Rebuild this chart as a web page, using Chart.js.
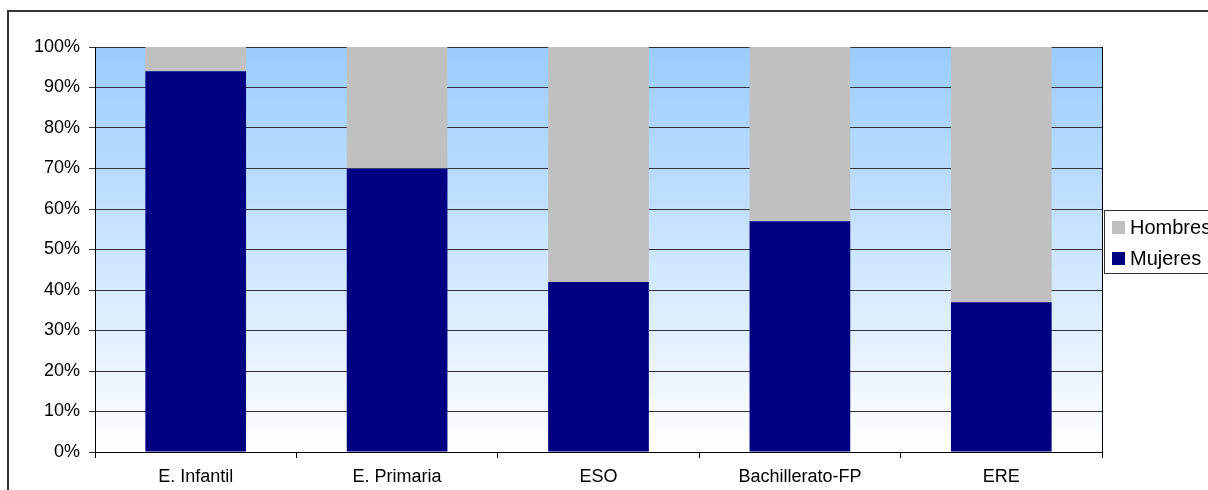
<!DOCTYPE html>
<html>
<head>
<meta charset="utf-8">
<script src="https://cdn.jsdelivr.net/npm/chart.js@4"></script>
<style>
  html, body { margin: 0; padding: 0; background: #fff; }
  #wrap { width: 1208px; height: 490px; position: relative; }
</style>
</head>
<body>
<div id="wrap"><canvas id="chart" width="1208" height="490"></canvas></div>
<script>
const categories = ['E. Infantil', 'E. Primaria', 'ESO', 'Bachillerato-FP', 'ERE'];
const mujeres = [94, 70, 42, 57, 37];
const hombres = [6, 30, 58, 43, 63];
const yTicks = [0, 10, 20, 30, 40, 50, 60, 70, 80, 90, 100];

const FONT = "'Liberation Sans', Arial, sans-serif";

// plot area gradient, right border, outer frame, legend box
const decor = {
    id: 'decor',
    beforeDraw(chart) {
        const ctx = chart.ctx;
        const a = chart.chartArea;
        const g = ctx.createLinearGradient(0, a.top, 0, a.bottom);
        g.addColorStop(0, '#99CCFF');
        g.addColorStop(1, '#FFFFFF');
        ctx.save();
        ctx.fillStyle = g;
        ctx.fillRect(a.left, a.top, a.right - a.left, a.bottom - a.top);
        ctx.strokeStyle = '#000';
        ctx.lineWidth = 1;
        ctx.beginPath();
        ctx.moveTo(a.right + 0.5, a.top);
        ctx.lineTo(a.right + 0.5, a.bottom);
        ctx.stroke();
        ctx.restore();
    },
    afterDraw(chart) {
        const ctx = chart.ctx;
        ctx.save();
        // outer frame
        ctx.strokeStyle = '#333';
        ctx.lineWidth = 2;
        ctx.beginPath();
        ctx.moveTo(8, 490);
        ctx.lineTo(8, 11);
        ctx.lineTo(1208, 11);
        ctx.stroke();
        // legend
        ctx.fillStyle = '#fff';
        ctx.fillRect(1104.5, 210.5, 200, 63);
        ctx.strokeStyle = '#333';
        ctx.lineWidth = 1;
        ctx.strokeRect(1104.5, 210.5, 200, 63);
        const items = [chart.data.datasets[1], chart.data.datasets[0]];
        ctx.font = '20px ' + FONT;
        ctx.textBaseline = 'middle';
        items.forEach((ds, i) => {
            const y = 221 + i * 31;
            ctx.fillStyle = ds.backgroundColor;
            ctx.fillRect(1112, y, 13, 13);
            ctx.fillStyle = '#000';
            ctx.fillText(ds.label, 1130, y + 7);
        });
        ctx.restore();
    }
};

new Chart(document.getElementById('chart'), {
    type: 'bar',
    data: {
        labels: categories,
        datasets: [
            { label: 'Mujeres', data: mujeres, backgroundColor: '#000080', barPercentage: 0.5, categoryPercentage: 1 },
            { label: 'Hombres', data: hombres, backgroundColor: '#C0C0C0', barPercentage: 0.5, categoryPercentage: 1 }
        ]
    },
    options: {
        responsive: false,
        animation: false,
        layout: { padding: { left: 0, top: 47, right: 106, bottom: 0 } },
        plugins: { legend: { display: false }, tooltip: { enabled: false } },
        scales: {
            x: {
                stacked: true,
                grid: { offset: true, drawOnChartArea: false, drawTicks: true, tickLength: 6, color: '#000' },
                border: { display: true, color: '#000', width: 1 },
                ticks: { color: '#000', font: { family: FONT, size: 18 }, padding: 8, maxRotation: 0 },
                afterFit(scale) { scale.height = 38; }
            },
            y: {
                stacked: true,
                min: 0,
                max: 100,
                afterBuildTicks(scale) { scale.ticks = yTicks.map(v => ({ value: v })); },
                grid: { color: '#333', lineWidth: 1, drawTicks: true, tickLength: 6 },
                border: { display: true, color: '#000', width: 1 },
                ticks: { color: '#000', font: { family: FONT, size: 18 }, padding: 9, callback: v => v + '%' },
                afterFit(scale) { scale.width = 95; }
            }
        }
    },
    plugins: [decor]
});
</script>
</body>
</html>
